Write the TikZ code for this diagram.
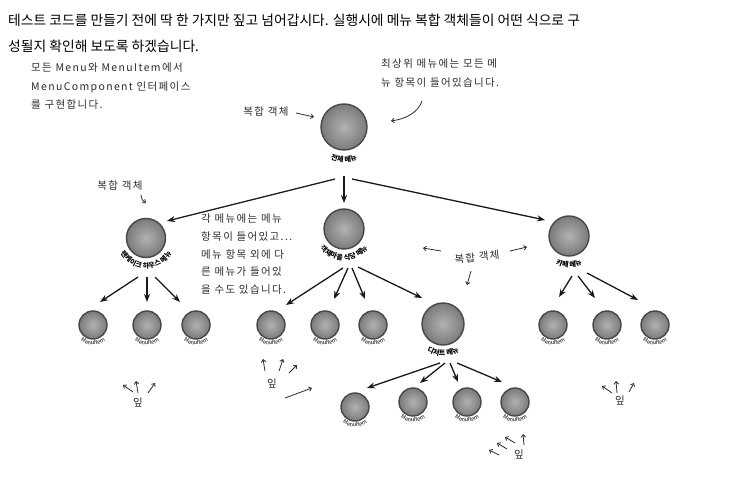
\documentclass[tikz,border=0pt]{standalone}
\usepackage{fontspec}
\setmainfont{Noto Sans CJK KR}
\newfontfamily\kr{Noto Sans CJK KR}
\newfontfamily\krhand[LetterSpace=13]{Noto Sans CJK KR}
\usetikzlibrary{arrows.meta,decorations.text,calc}
\definecolor{ballin}{RGB}{178,178,178}
\definecolor{ballout}{RGB}{122,122,122}
\definecolor{ballrim}{RGB}{72,72,72}
\definecolor{handc}{RGB}{45,45,45}
\definecolor{arrc}{RGB}{25,25,25}
\newcommand\handfont{\krhand\fontsize{10.5}{18.5}\selectfont}
\newcommand\lblfont{\kr\bfseries\fontsize{7}{7}\selectfont}
\newcommand\leaffont{\kr\fontsize{5.6}{6}\selectfont}
\newcommand\arclabel[4]{\path[decorate,decoration={text along path,text align=center,text={|#4|#3}}] ($(#1)+(-#2,0)$) arc[start angle=180,end angle=0,radius=#2];}
\tikzset{
  x=1pt,y=-1pt,
  ball/.style={circle,draw=ballrim,line width=1.4pt,inner sep=0pt,shading=radial,inner color=ballin,outer color=ballout},
  leafball/.style={ball,minimum size=28pt},
  arr/.style={draw=arrc,line width=1.3pt,-{Stealth[length=8pt,width=6pt]}},
  harr/.style={draw=handc,line width=0.8pt,-{Straight Barb[length=2.6pt,width=4.5pt]}},
  hand/.style={font=\handfont,text=handc,inner sep=0pt},
  head/.style={font=\kr\fontsize{13.8}{15}\selectfont,inner sep=0pt,anchor=west}
}
\begin{document}
\begin{tikzpicture}
\useasboundingbox[fill=white] (0,0) rectangle (730,478);
% header
\node[head] (h1) at (8,20) {테스트 코드를 만들기 전에 딱 한 가지만 짚고 넘어갑시다. 실행시에 메뉴 복합 객체들이 어떤 식으로 구};
\node[head] (h2) at (8,46) {성될지 확인해 보도록 하겠습니다.};
% notes
\node[hand,anchor=north west,align=left] (t1) at (31,63) {모든 Menu와 MenuItem에서\\MenuComponent 인터페이스\\를 구현합니다.};
\node[hand,anchor=north west,align=left] (t2) at (381,59) {최상위 메뉴에는 모든 메\\뉴 항목이 들어있습니다.};
\node[hand,anchor=north west,align=left,font=\krhand\fontsize{10.5}{17.7}\selectfont] (t3) at (201,214) {각 메뉴에는 메뉴\\항목이 들어있고...\\메뉴 항목 외에 다\\른 메뉴가 들어있\\을 수도 있습니다.};
% composite nodes
\node[ball,minimum size=46pt] (R) at (344,127) {};
\node[ball,minimum size=39pt] (P) at (146,238) {};
\node[ball,minimum size=40pt] (M) at (344,229) {};
\node[ball,minimum size=40pt] (C) at (569,236) {};
\node[ball,minimum size=42pt] (D) at (443,324) {};
\arclabel{R}{35}{전체 메뉴}{\lblfont}
\arclabel{P}{30}{팬케이크 하우스 메뉴}{\lblfont}
\arclabel{M}{31}{객체마을 식당 메뉴}{\lblfont}
\arclabel{C}{31}{카페 메뉴}{\lblfont}
\arclabel{D}{32}{디저트 메뉴}{\lblfont}
% leaves
\foreach \n/\xx/\yy in {L1/93/325,L2/147/325,L3/196/325,L4/271/325,L5/325/325,L6/373/325,L7/553/325,L8/607/325,L9/655/325,DL1/355/407,DL2/413/402,DL3/467/402,DL4/515/402}{
  \node[leafball] (\n) at (\xx,\yy) {};
  \arclabel{\n}{20}{MenuItem}{\leaffont}
}
% connectors
\draw[arr] ($(R)+(-9,52)$) -- ($(P)+(21,-17)$);
\draw[arr] ($(R)+(0,49)$) -- ($(M)+(0,-26)$);
\draw[arr] ($(R)+(8,52)$) -- ($(C)+(-24,-16)$);
\draw[arr] ($(P)+(-8,39)$) -- ($(L1)+(7,-23)$);
\draw[arr] ($(P)+(1,39)$) -- ($(L2)+(0,-23)$);
\draw[arr] ($(P)+(9,39)$) -- ($(L3)+(-16,-23)$);
\draw[arr] ($(M)+(-1,39)$) -- ($(L4)+(15,-20)$);
\draw[arr] ($(M)+(4,39)$) -- ($(L5)+(9,-26)$);
\draw[arr] ($(M)+(8,39)$) -- ($(L6)+(-8,-26)$);
\draw[arr] ($(M)+(14,38)$) -- ($(D)+(-21,-26)$);
\draw[arr] ($(C)+(3,40)$) -- ($(L7)+(6,-28)$);
\draw[arr] ($(C)+(9,40)$) -- ($(L8)+(-12,-27)$);
\draw[arr] ($(C)+(18,37)$) -- ($(L9)+(-17,-25)$);
\draw[arr] ($(D)+(-3,39)$) -- ($(DL1)+(12,-19)$);
\draw[arr] ($(D)+(2,39)$) -- ($(DL2)+(7,-19)$);
\draw[arr] ($(D)+(7,39)$) -- ($(DL3)+(-9,-20)$);
\draw[arr] ($(D)+(14,39)$) -- ($(DL4)+(-13,-20)$);
% composite annotations
\node[hand] (c1) at (266,112) {복합 객체};
\draw[harr] ($(c1)+(30,1)$) -- ($(c1)+(48,5)$);
\node[hand] (c2) at (120,186) {복합 객체};
\draw[harr] ($(c2)+(21,9)$) .. controls ($(c2)+(22,14)$) .. ($(c2)+(26,17)$);
\node[hand,rotate=6] (c3) at (477,257) {복합 객체};
\draw[harr] ($(c3)+(-36,-6)$) -- ($(c3)+(-54,-9)$);
\draw[harr] ($(c3)+(33,-6)$) -- ($(c3)+(50,-10)$);
\draw[harr] ($(c3)+(-6,14)$) -- ($(c3)+(-10,28)$);
\draw[harr] ($(t2.north west)+(41,42)$) .. controls ($(t2.north west)+(37,54)$) and ($(t2.north west)+(24,60)$) .. ($(t2.north west)+(10,62)$);
% leaf annotations
\node[hand] (y1) at (138,403) {잎};
\draw[harr] ($(y1)+(-5,-11)$) -- ($(y1)+(-15,-18)$);
\draw[harr] ($(y1)+(0,-10)$) -- ($(y1)+(-2,-22)$);
\draw[harr] ($(y1)+(10,-10)$) -- ($(y1)+(17,-20)$);
\node[hand] (y2) at (272,384) {잎};
\draw[harr] ($(y2)+(-7,-13)$) -- ($(y2)+(-9,-25)$);
\draw[harr] ($(y2)+(7,-13)$) -- ($(y2)+(11,-25)$);
\draw[harr] ($(y2)+(17,-11)$) -- ($(y2)+(25,-19)$);
\draw[harr] ($(y2)+(13,14)$) -- ($(y2)+(40,4)$);
\node[hand] (y3) at (519,455) {잎};
\draw[harr] ($(y3)+(-20,0)$) -- ($(y3)+(-30,-5)$);
\draw[harr] ($(y3)+(-12,-6)$) -- ($(y3)+(-22,-12)$);
\draw[harr] ($(y3)+(-4,-12)$) -- ($(y3)+(-14,-18)$);
\draw[harr] ($(y3)+(5,-10)$) -- ($(y3)+(4,-21)$);
\node[hand] (y4) at (620,401) {잎};
\draw[harr] ($(y4)+(-8,-8)$) -- ($(y4)+(-18,-15)$);
\draw[harr] ($(y4)+(-3,-8)$) -- ($(y4)+(-4,-20)$);
\draw[harr] ($(y4)+(9,-9)$) -- ($(y4)+(14,-18)$);
\end{tikzpicture}
\end{document}
